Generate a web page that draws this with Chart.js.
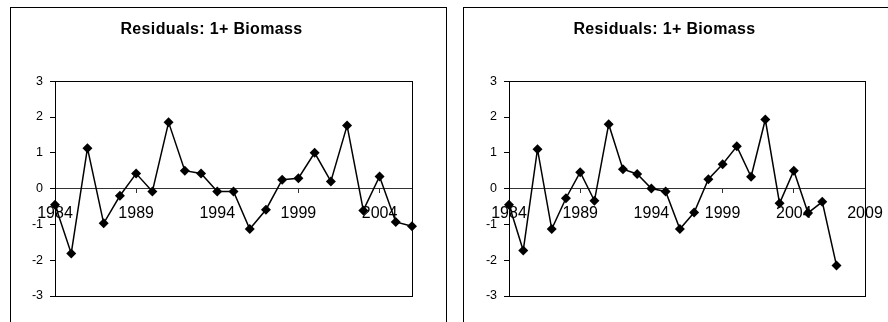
<!DOCTYPE html>
<html>
<head>
<meta charset="utf-8">
<script src="https://cdn.jsdelivr.net/npm/chart.js@4/dist/chart.umd.min.js"></script>
<style>
  html, body { margin: 0; padding: 0; background: #fff; width: 888px; height: 322px; overflow: hidden; position: relative; }
  .panel { position: absolute; top: 7px; height: 330px; width: 435px; border: 1px solid #000; box-sizing: content-box; }
  #p1 { left: 10px; }
  #p2 { left: 463px; }
  canvas { position: absolute; top: 0; left: 0; }
</style>
</head>
<body>
<div class="panel" id="p1"><canvas id="c1" width="435" height="314"></canvas></div>
<div class="panel" id="p2"><canvas id="c2" width="436" height="314"></canvas></div>
<script>
const titleText = "Residuals: 1+ Biomass";

const years1 = [1984,1985,1986,1987,1988,1989,1990,1991,1992,1993,1994,1995,1996,1997,1998,1999,2000,2001,2002,2003,2004,2005,2006];
const resid1 = [-0.45,-1.81,1.13,-0.97,-0.20,0.42,-0.08,1.85,0.50,0.42,-0.08,-0.08,-1.13,-0.59,0.25,0.29,1.00,0.20,1.76,-0.61,0.34,-0.93,-1.05];
const xTicks1 = [1984,1989,1994,1999,2004];

const years2 = [1984,1985,1986,1987,1988,1989,1990,1991,1992,1993,1994,1995,1996,1997,1998,1999,2000,2001,2002,2003,2004,2005,2006,2007];
const resid2 = [-0.45,-1.73,1.10,-1.13,-0.27,0.46,-0.34,1.80,0.54,0.41,0.00,-0.08,-1.13,-0.67,0.26,0.68,1.18,0.33,1.93,-0.41,0.50,-0.68,-0.37,-2.15];
const xTicks2 = [1984,1989,1994,1999,2004,2009];

const yTicks = [-3,-2,-1,0,1,2,3];

const plotBorder = {
  id: 'plotBorder',
  beforeDatasetsDraw(chart) {
    const a = chart.chartArea, ctx = chart.ctx;
    ctx.save();
    ctx.strokeStyle = '#000';
    ctx.lineWidth = 1;
    ctx.strokeRect(Math.round(a.left) + 0.5, Math.round(a.top) + 0.5, Math.round(a.right - a.left), Math.round(a.bottom - a.top));
    ctx.restore();
  }
};

function makeChart(id, years, vals, xTicks, xMax, yAxisWidth, padRight) {
  const chart = new Chart(document.getElementById(id), {
    type: 'scatter',
    data: {
      datasets: [{
        data: years.map((y, i) => ({x: y, y: vals[i]})),
        showLine: true,
        borderColor: '#000',
        borderWidth: 1.5,
        tension: 0,
        pointStyle: 'rectRot',
        pointRadius: 5,
        pointBackgroundColor: '#000',
        pointBorderColor: '#000',
        pointBorderWidth: 0,
        clip: false
      }]
    },
    options: {
      responsive: false,
      maintainAspectRatio: false,
      animation: false,
      layout: { padding: { left: 0, right: padRight, top: 0, bottom: 26 } },
      plugins: {
        legend: { display: false },
        tooltip: { enabled: false },
        title: {
          display: true,
          text: titleText,
          color: '#000',
          font: { family: 'Liberation Sans, Arial, sans-serif', size: 16, weight: 'bold' },
          padding: { top: 12, bottom: 42 }
        }
      },
      scales: {
        x: {
          type: 'linear',
          position: { y: 0 },
          min: 1984,
          max: xMax,
          afterBuildTicks(scale) { scale.ticks = xTicks.map(v => ({ value: v })); },
          grid: { display: true, drawOnChartArea: false, drawTicks: true, tickLength: 4, color: '#333' },
          border: { display: true, color: '#333', width: 1 },
          ticks: {
            color: '#000',
            padding: 11,
            maxRotation: 0,
            autoSkip: false,
            font: { family: 'Liberation Sans, Arial, sans-serif', size: 16 },
            callback: v => String(v)
          }
        },
        y: {
          type: 'linear',
          position: 'left',
          min: -3,
          max: 3,
          afterBuildTicks(scale) { scale.ticks = yTicks.map(v => ({ value: v })); },
          afterFit(scale) { scale.width = yAxisWidth; },
          grid: { display: true, drawOnChartArea: false, drawTicks: true, tickLength: 5, color: '#000' },
          border: { display: true, color: '#000', width: 1 },
          ticks: {
            color: '#000',
            padding: 7,
            font: { family: 'Liberation Sans, Arial, sans-serif', size: 12.5 },
            callback: v => String(v)
          }
        }
      }
    },
    plugins: [plotBorder]
  });
  // widen the title's letter spacing a little, as in the reference
  const tb = chart.titleBlock;
  if (tb) {
    const orig = tb.draw.bind(tb);
    tb.draw = function(area) {
      const ctx = chart.ctx;
      ctx.save();
      if ('letterSpacing' in ctx) ctx.letterSpacing = '0.35px';
      orig(area);
      ctx.restore();
    };
    chart.draw();
  }
  return chart;
}

makeChart('c1', years1, resid1, xTicks1, 2006, 44, 34);
makeChart('c2', years2, resid2, xTicks2, 2009, 45, 35);
</script>
</body>
</html>
